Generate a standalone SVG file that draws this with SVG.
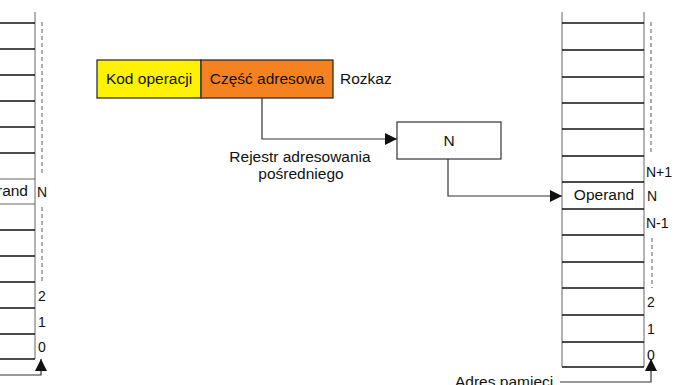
<svg xmlns="http://www.w3.org/2000/svg" width="693" height="385" viewBox="0 0 693 385">
<defs>
<marker id="ah" markerWidth="12" markerHeight="12" refX="12" refY="6" orient="auto" markerUnits="userSpaceOnUse">
<path d="M0,0 L12,6 L0,12 Z" fill="#111"/>
</marker>
<style>
text{font-family:"Liberation Sans",Arial,sans-serif;fill:#111}
.lbl{font-size:14px}
.big{font-size:15.5px}
.cell{stroke:#111;stroke-width:1.3;fill:none}
.thin{stroke:#666;stroke-width:1;fill:none}
.dash{stroke:#777;stroke-width:1.2;stroke-dasharray:4 3;fill:none}
.con{stroke:#333;stroke-width:1.2;fill:none}
</style>
</defs>
<rect width="693" height="385" fill="#fff"/>

<g id="left-memory">
<line class="thin" x1="35" y1="12" x2="35" y2="359"/>
<path class="cell" d="M0,23H35M0,49H35M0,75H35M0,101H35M0,127H35M0,153H35M0,230H35M0,256H35M0,282H35M0,308H35M0,334H35M0,359H35"/>
<path class="thin" d="M0,179H35M0,204H35"/>
<text class="big" x="28" y="196" text-anchor="end">Operand</text>
<line class="dash" x1="42" y1="22" x2="42" y2="176"/>
<line class="dash" x1="42" y1="207" x2="42" y2="282"/>
<text class="lbl" x="37" y="197">N</text>
<text class="lbl" x="38" y="301">2</text>
<text class="lbl" x="38" y="327">1</text>
<text class="lbl" x="38" y="352">0</text>
</g>

<g id="rozkaz">
<rect x="97" y="60" width="104" height="38" fill="#fff200" stroke="#222" stroke-width="1.2"/>
<rect x="201" y="60" width="132" height="38" fill="#f58220" stroke="#222" stroke-width="1.2"/>
<text class="big" x="149" y="84" text-anchor="middle">Kod operacji</text>
<text class="big" x="267" y="84" text-anchor="middle">Część adresowa</text>
<text class="big" x="340" y="84">Rozkaz</text>
</g>

<g id="rejestr">
<rect x="397" y="122" width="104" height="37" fill="#fff" stroke="#333" stroke-width="1.2"/>
<text class="big" x="449" y="146" text-anchor="middle">N</text>
<text class="big" x="300" y="162" text-anchor="middle">Rejestr adresowania</text>
<text class="big" x="301" y="179" text-anchor="middle">pośredniego</text>
</g>

<g id="right-memory">
<line class="thin" x1="562" y1="12" x2="562" y2="367"/>
<line class="thin" x1="644" y1="12" x2="644" y2="367"/>
<path class="cell" d="M562,23H644M562,50H644M562,77H644M562,103H644M562,129H644M562,156H644M562,182H644M562,209H644M562,235H644M562,262H644M562,288H644M562,315H644M562,342H644M562,367H644"/>
<text class="big" x="604" y="200" text-anchor="middle">Operand</text>
<line class="dash" x1="651" y1="22" x2="651" y2="152"/>
<line class="dash" x1="652" y1="238" x2="652" y2="288"/>
<text class="lbl" x="646" y="177">N+1</text>
<text class="lbl" x="647" y="201">N</text>
<text class="lbl" x="646" y="228">N-1</text>
<text class="lbl" x="647" y="307">2</text>
<text class="lbl" x="647" y="334">1</text>
<text class="lbl" x="647" y="360">0</text>
<text class="big" x="455" y="387">Adres pamieci</text>
</g>

<g id="connectors">
<path class="con" d="M262,98V139H397" marker-end="url(#ah)"/>
<path class="con" d="M448,159V196H562" marker-end="url(#ah)"/>
<path class="con" d="M560,382H651V359" marker-end="url(#ah)"/>
<path class="con" d="M0,375H41V359" marker-end="url(#ah)"/>
</g>
</svg>
